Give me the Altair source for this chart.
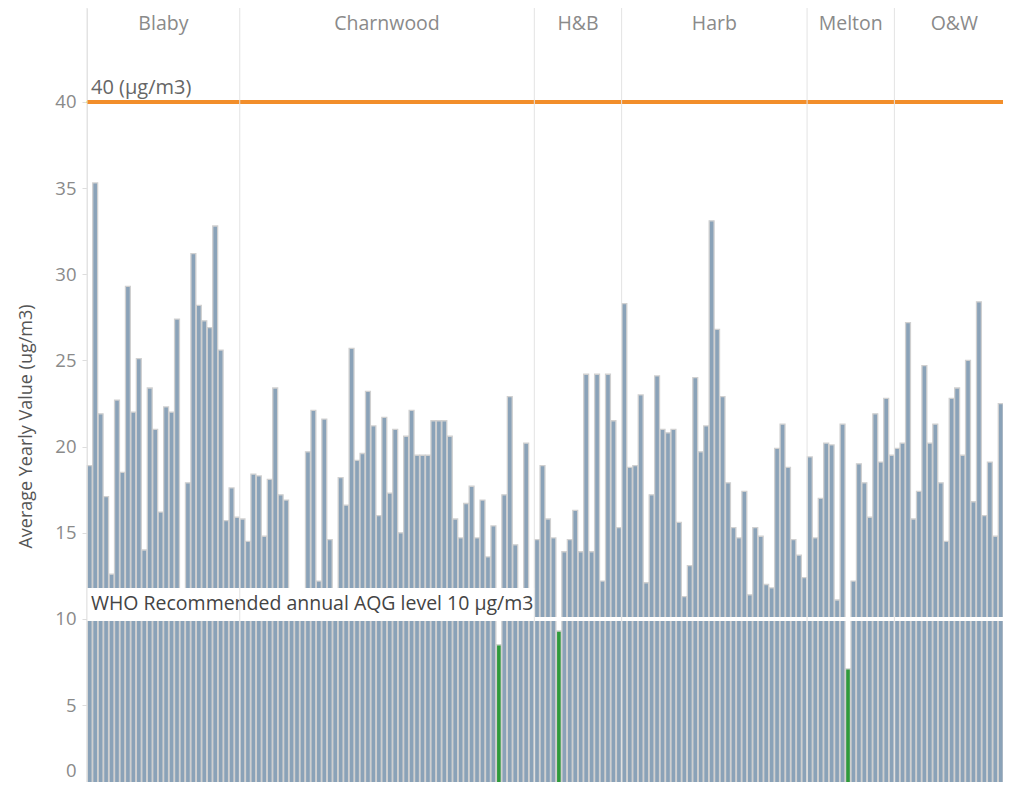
import altair as alt
import pandas as pd

FONT = "Open Sans"
BLUE = "#8aa2b8"
GREEN = "#2f9a3c"
ORANGE = "#f28e2b"

groups = ["Blaby", "Charnwood", "H&B", "Harb", "Melton", "O&W"]

blaby = [18.9, 35.3, 21.9, 17.1, 12.6, 22.7, 18.5, 29.3, 22.0, 25.1, 14.0, 23.4, 21.0, 16.2,
         22.3, 22.0, 27.4, 11.2, 17.9, 31.2, 28.2, 27.3, 26.9, 32.8, 25.6, 15.7, 17.6, 15.9]

charnwood = [15.8, 14.5, 18.4, 18.3, 14.8, 18.1, 23.4, 17.2, 16.9, 11.0, 10.6, 11.4, 19.7, 22.1,
             12.2, 21.6, 14.6, 11.3, 18.2, 16.6, 25.7, 19.2, 19.6, 23.2, 21.2, 16.0, 21.7, 17.3,
             21.0, 15.0, 20.6, 22.1, 19.5, 19.5, 19.5, 21.5, 21.5, 21.5, 20.6, 15.8, 14.7, 16.7,
             17.7, 14.7, 16.9, 13.6, 15.4, 8.5, 17.2, 22.9, 14.3, 11.1, 20.2, 11.5]

hb = [14.6, 18.9, 15.8, 14.7, 9.3, 13.9, 14.6, 16.3, 13.9, 24.2, 13.9, 24.2, 12.2, 24.2, 21.5, 15.3]

harb = [28.3, 18.8, 18.9, 23.0, 12.1, 17.2, 24.1, 21.0, 20.8, 21.0, 15.6, 11.3, 13.1, 24.0,
        19.7, 21.2, 33.1, 26.8, 22.9, 17.9, 15.3, 14.7, 17.4, 11.4, 15.3, 14.8, 12.0, 11.8,
        19.9, 21.3, 18.8, 14.6, 13.7, 12.4]

melton = [19.4, 14.7, 17.0, 20.2, 20.1, 11.1, 21.3, 7.1, 12.2, 19.0, 17.9, 15.9, 21.9, 19.1, 22.8, 19.5]

ow = [19.9, 20.2, 27.2, 15.8, 17.4, 24.7, 20.2, 21.3, 17.9, 14.5, 22.8, 23.4, 19.5, 25.0,
      16.8, 28.4, 16.0, 19.1, 14.8, 22.5, 18.3, 23.4]

series = [blaby, charnwood, hb, harb, melton, ow]

limit_value = 40
limit_label = "40 (µg/m3)"
who_value = 10
who_label = "WHO Recommended annual AQG level 10 µg/m3"
y_ticks = [0, 5, 10, 15, 20, 25, 30, 35, 40]

rows = []
grows = []
idx = 0
for g, vals in zip(groups, series):
    grows.append({"group": g, "start": idx, "n": len(vals)})
    for v in vals:
        rows.append({"group": g, "i": idx, "value": v})
        idx += 1
N = idx
df = pd.DataFrame(rows)
gdf = pd.DataFrame(grows)
gdf["mid"] = gdf["start"] + gdf["n"] / 2
gdf["end"] = gdf["start"] + gdf["n"]

PLOT_W = 927.4
PLOT_H = 783.3
Y_MAX = 45.45

xs = alt.Scale(domain=[0, N], nice=False, zero=False)
ys = alt.Scale(domain=[0, Y_MAX], nice=False, zero=True)

bars = alt.Chart(df).transform_calculate(
    x0="datum.i + 0.05", x1="datum.i + 0.95"
).mark_rect(stroke="#d0d0d0", strokeWidth=1.3).encode(
    x=alt.X("x0:Q", scale=xs, axis=None),
    x2="x1:Q",
    y=alt.Y("value:Q", scale=ys, axis=alt.Axis(
        values=y_ticks, grid=False, title="Average Yearly Value (ug/m3)",
        labelColor="#8a8a8a", labelFontSize=18.5, labelFont=FONT, labelPadding=6,
        labelFlush=True, labelFlushOffset=-11,
        tickColor="#dddddd", tickSize=5, domainColor="#e3e3e3",
        titleColor="#555555", titleFontSize=18, titleFont=FONT, titleFontWeight="normal",
        titleX=-60, titleY=418, titleAlign="center", titleBaseline="middle", titleAngle=270,
    )),
    y2=alt.datum(0),
    color=alt.condition(f"datum.value < {who_value}", alt.value(GREEN), alt.value(BLUE)),
)

who_line = alt.Chart(df).mark_rule(color="white", strokeWidth=3).encode(
    y=alt.datum(who_value)
)

box_df = gdf[gdf["group"].isin(["Blaby", "Charnwood"])]
box = alt.Chart(pd.DataFrame({"x": [box_df["start"].min()], "x2": [box_df["end"].max()],
                              "y": [who_value]})).mark_rule(
    color="white", strokeWidth=31, yOffset=-15.5, strokeCap="butt"
).encode(x=alt.X("x:Q", scale=xs), x2="x2:Q", y=alt.Y("y:Q", scale=ys))

limit_line = alt.Chart(df).mark_rule(color=ORANGE, strokeWidth=3).encode(
    y=alt.datum(limit_value)
)

ann = pd.DataFrame({"x": [0, 0], "y": [limit_value, who_value], "label": [limit_label, who_label]})
limit_text = alt.Chart(ann.iloc[[0]]).mark_text(
    align="left", baseline="middle", dx=4, dy=-14, fontSize=20, font=FONT, color="#666666"
).encode(x=alt.X("x:Q", scale=xs), y=alt.Y("y:Q", scale=ys), text="label:N")
who_text = alt.Chart(ann.iloc[[1]]).mark_text(
    align="left", baseline="middle", dx=4, dy=-15, fontSize=19.5, font=FONT, color="#444444"
).encode(x=alt.X("x:Q", scale=xs), y=alt.Y("y:Q", scale=ys), text="label:N")

seps = alt.Chart(gdf).mark_rule(color="#e3e3e3", strokeWidth=1).encode(
    x=alt.X("start:Q", scale=xs)
)

headers = alt.Chart(gdf).mark_text(
    align="center", baseline="middle", fontSize=19.5, font=FONT, color="#8a8a8a"
).encode(x=alt.X("mid:Q", scale=xs), y=alt.value(16), text="group:N")

chart = alt.layer(
    bars, who_line, box, limit_line, limit_text, who_text, seps, headers
).properties(
    width=PLOT_W, height=PLOT_H,
    autosize=alt.AutoSizeParams(type="none"),
    padding={"left": 79, "top": 0, "right": -11, "bottom": -9},
).configure_view(stroke=None)

chart.save("out.html", embed_options={"renderer": "svg", "actions": False})
